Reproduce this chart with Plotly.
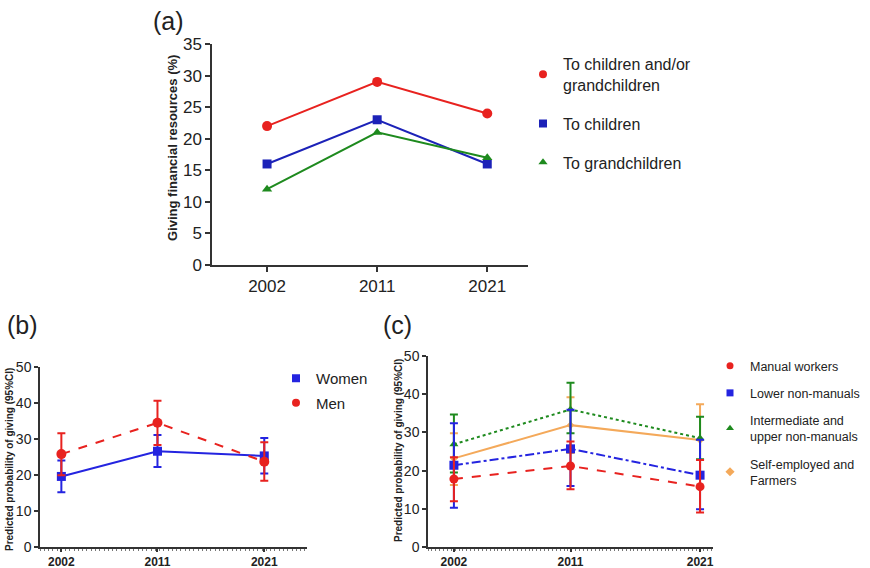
import plotly.graph_objects as go

# ---------------- data ----------------
years_a = ["2002", "2011", "2021"]
a_both = [22, 29, 24]
a_children = [16, 23, 16]
a_grand = [12, 21, 17]

years = [2002, 2011, 2021]
women = [19.6, 26.6, 25.3]
women_lo = [15.2, 22.2, 20.4]
women_hi = [24.0, 31.1, 30.3]
men = [25.8, 34.5, 23.7]
men_lo = [19.9, 28.3, 18.4]
men_hi = [31.6, 40.6, 29.1]

manual = [17.8, 21.2, 15.8]
manual_lo = [12.0, 15.1, 9.0]
manual_hi = [23.5, 27.6, 22.8]
lower = [21.4, 25.7, 18.8]
lower_lo = [10.3, 16.0, 9.9]
lower_hi = [32.4, 35.9, 28.1]
inter = [26.9, 36.0, 28.5]
inter_lo = [19.5, 29.8, 23.0]
inter_hi = [34.7, 43.0, 34.1]
selfemp = [23.2, 31.9, 28.0]
selfemp_lo = [16.2, 24.6, 18.6]
selfemp_hi = [29.8, 39.2, 37.4]

# ---------------- styles ----------------
FONT = "Liberation Sans, Arial, sans-serif"
RED = "#e8221f"
BLUE_A = "#1c22b8"
BLUE = "#2424e0"
GREEN = "#1e8a1e"
ORANGE = "#f4a95a"
AX = "#333333"
W, H = 870, 568

def px_x(p):
    return p / W

def px_y(p):
    return 1 - p / H

fig = go.Figure()

def err(v, lo, hi):
    return dict(type="data", symmetric=False,
                array=[h - m for m, h in zip(v, hi)],
                arrayminus=[m - l for m, l in zip(v, lo)])

# ---------- panel (a) ----------
for name, vals, col, sym, sz in [
    ("To children and/or<br>grandchildren", a_both, RED, "circle", 10),
    ("To children", a_children, BLUE_A, "square", 9),
    ("To grandchildren", a_grand, GREEN, "triangle-up", 9),
]:
    fig.add_trace(go.Scatter(x=years_a, y=vals, mode="lines+markers",
                             line=dict(color=col, width=2),
                             marker=dict(color=col, symbol=sym, size=sz),
                             xaxis="x", yaxis="y", showlegend=False))
    fig.add_trace(go.Scatter(x=[None], y=[None], mode="markers", name=name,
                             marker=dict(color=col, symbol=sym, size=8),
                             xaxis="x", yaxis="y", legend="legend",
                             legendgroup=name))

# ---------- panel (b) ----------
series_b = [
    ("Women", women, women_lo, women_hi, BLUE, "square", 9, "solid"),
    ("Men", men, men_lo, men_hi, RED, "circle", 10, "dash"),
]
for name, v, lo, hi, col, sym, sz, dash in series_b:
    fig.add_trace(go.Scatter(x=years, y=v, mode="lines+markers",
                             line=dict(color=col, width=2, dash=dash),
                             marker=dict(color=col, symbol=sym, size=sz),
                             error_y=dict(**err(v, lo, hi), color=col,
                                          thickness=2, width=4),
                             xaxis="x2", yaxis="y2", showlegend=False))
for name, v, lo, hi, col, sym, sz, dash in series_b:
    fig.add_trace(go.Scatter(x=[None], y=[None], mode="markers", name=name,
                             marker=dict(color=col, symbol=sym, size=8),
                             xaxis="x2", yaxis="y2", legend="legend2",
                             legendgroup=name))

# ---------- panel (c) ----------
series_c_draw = [
    ("Self-employed and<br>Farmers", selfemp, selfemp_lo, selfemp_hi, ORANGE, "diamond", 0, "solid"),
    ("Intermediate and<br>upper non-manuals", inter, inter_lo, inter_hi, GREEN, "triangle-up", 8, "dot"),
    ("Lower non-manuals", lower, lower_lo, lower_hi, BLUE, "square", 9, "dashdot"),
    ("Manual workers", manual, manual_lo, manual_hi, RED, "circle", 9, "dash"),
]
for name, v, lo, hi, col, sym, sz, dash in series_c_draw:
    fig.add_trace(go.Scatter(x=years, y=v, mode="lines+markers",
                             line=dict(color=col, width=2, dash=dash),
                             marker=dict(color=col, symbol=sym, size=sz),
                             error_y=dict(**err(v, lo, hi), color=col,
                                          thickness=2, width=4),
                             xaxis="x3", yaxis="y3", showlegend=False))
for name, v, lo, hi, col, sym, sz, dash in reversed(series_c_draw):
    fig.add_trace(go.Scatter(x=[None], y=[None], mode="markers", name=name,
                             marker=dict(color=col, symbol=sym, size=7),
                             xaxis="x3", yaxis="y3", legend="legend3",
                             legendgroup=name))

# ---------------- axes ----------------
base_axis = dict(showline=True, linecolor=AX, linewidth=1.5, ticks="outside",
                 tickcolor=AX, tickwidth=1.5, showgrid=False, zeroline=False,
                 mirror=False, automargin=False)

fig.update_layout(
    width=W, height=H, margin=dict(l=0, r=0, t=0, b=0, autoexpand=False),
    paper_bgcolor="white", plot_bgcolor="white",
    font=dict(family=FONT, color="#222222"),
    xaxis=dict(**base_axis, domain=[px_x(212), px_x(528)], anchor="y",
               type="category", categoryorder="array", categoryarray=years_a,
               range=[-0.5, 2.37], ticklen=5,
               tickfont=dict(size=17, family=FONT, color="#222")),
    yaxis=dict(**base_axis, domain=[px_y(265), px_y(44)], anchor="x",
               range=[0, 35], dtick=5, tick0=0, ticklen=5,
               tickfont=dict(size=17, family=FONT, color="#222")),
    xaxis2=dict(**base_axis, domain=[px_x(40), px_x(307)], anchor="y2",
                range=[2000, 2025], tickvals=years, ticklen=3,
                tickfont=dict(size=12, family=FONT, color="#222", weight="bold"),
                minor=dict(ticks="outside", dtick=0.4, tick0=2000, ticklen=2,
                           tickcolor="#777", tickwidth=1)),
    yaxis2=dict(**base_axis, domain=[px_y(547), px_y(367)], anchor="x2",
                range=[0, 50], dtick=10, tick0=0, ticklen=4,
                tickfont=dict(size=14, family=FONT, color="#222")),
    xaxis3=dict(**base_axis, domain=[px_x(428), px_x(713)], anchor="y3",
                range=[2000, 2022], tickvals=years, ticklen=3,
                tickfont=dict(size=12, family=FONT, color="#222", weight="bold"),
                minor=dict(ticks="outside", dtick=0.3, tick0=2000, ticklen=2,
                           tickcolor="#777", tickwidth=1)),
    yaxis3=dict(**base_axis, domain=[px_y(547), px_y(356)], anchor="x3",
                range=[0, 50], dtick=10, tick0=0, ticklen=4,
                tickfont=dict(size=14, family=FONT, color="#222")),
    legend=dict(x=px_x(523), y=px_y(47), xanchor="left", yanchor="top",
                font=dict(size=16, family=FONT, color="#222"),
                bgcolor="rgba(0,0,0,0)", traceorder="grouped",
                tracegroupgap=15, itemwidth=30),
    legend2=dict(x=px_x(276), y=px_y(362), xanchor="left", yanchor="top",
                 font=dict(size=15, family=FONT, color="#222"),
                 bgcolor="rgba(0,0,0,0)", traceorder="grouped",
                 tracegroupgap=2, itemwidth=30),
    legend3=dict(x=px_x(710), y=px_y(351), xanchor="left", yanchor="top",
                 font=dict(size=12.5, family=FONT, color="#222"),
                 bgcolor="rgba(0,0,0,0)", traceorder="grouped",
                 tracegroupgap=8, itemwidth=30),
)

# ---------------- titles / labels ----------------
ann = [
    dict(text="(a)", x=px_x(168), y=px_y(21), size=25, angle=0),
    dict(text="(b)", x=px_x(22), y=px_y(325), size=25, angle=0),
    dict(text="(c)", x=px_x(397), y=px_y(325), size=25, angle=0),
    dict(text="<b>Giving financial resources (%)</b>", x=px_x(172), y=px_y(148),
         size=13, angle=-90),
    dict(text="<b>Predicted probability of giving (95%CI)</b>", x=px_x(9), y=px_y(460),
         size=10, angle=-90),
    dict(text="<b>Predicted probability of giving (95%CI)</b>", x=px_x(398), y=px_y(451),
         size=10, angle=-90),
]
for a in ann:
    fig.add_annotation(text=a["text"], x=a["x"], y=a["y"], xref="paper", yref="paper",
                       xanchor="center", yanchor="middle", showarrow=False,
                       textangle=a["angle"],
                       font=dict(size=a["size"], family=FONT, color="#222"))

fig.write_html("out.html", config={"displayModeBar": False},
               post_script="document.body.style.margin='0';")
